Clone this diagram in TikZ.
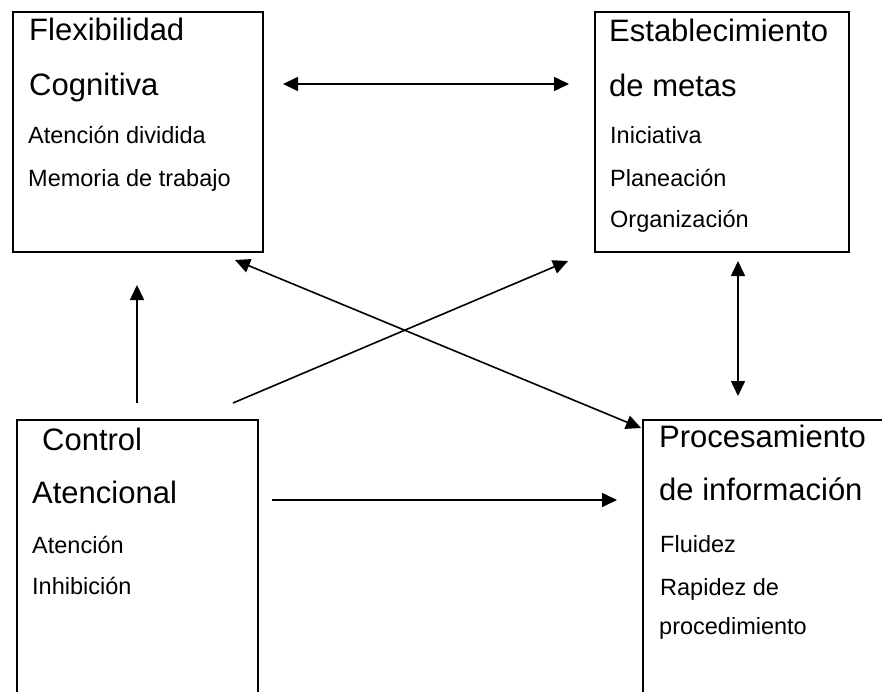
\documentclass[tikz,border=0pt]{standalone}
\usepackage{fontspec}
\setmainfont{Liberation Sans}
\usetikzlibrary{arrows.meta}
\begin{document}
\begin{tikzpicture}[x=1pt,y=-1pt,
  box/.style={draw,line width=2pt,inner sep=0pt},
  big/.style={font=\fontsize{31}{31}\selectfont,anchor=base west,inner sep=0pt},
  small/.style={font=\fontsize{23.5}{23.5}\selectfont,anchor=base west,inner sep=0pt},
  tip/.tip={Triangle[length=15pt,width=14pt]},
  conn/.style={line width=1.6pt,-tip},
  dconn/.style={line width=1.6pt,tip-tip}]
\clip (0,0) rectangle (882,692);
\fill[white] (0,0) rectangle (882,692);
% boxes
\node[box,minimum width=250pt,minimum height=240pt] (fc) at (138,132) {};
\node[box,minimum width=254pt,minimum height=240pt] (em) at (722,132) {};
\node[box,minimum width=241pt,minimum height=300pt] (ca) at (137.5,570) {};
\node[box,minimum width=277pt,minimum height=300pt] (pi) at (781.5,570) {};
% texts
\node[big] (fc1) at (29,41) {Flexibilidad};
\node[big] (fc2) at (29,96) {Cognitiva};
\node[small] (fc3) at (28,144) {Atención dividida};
\node[small] (fc4) at (28,187) {Memoria de trabajo};
\node[big] (em1) at (609,42) {Establecimiento};
\node[big] (em2) at (609,97) {de metas};
\node[small] (em3) at (610,144) {Iniciativa};
\node[small] (em4) at (610,187) {Planeación};
\node[small] (em5) at (610,228) {Organización};
\node[big] (ca1) at (42,450) {Control};
\node[big] (ca2) at (32,503) {Atencional};
\node[small] (ca3) at (32,553) {Atención};
\node[small] (ca4) at (32,594) {Inhibición};
\node[big] (pi1) at (659,447) {Procesamiento};
\node[big] (pi2) at (659,500) {de información};
\node[small] (pi3) at (660,552) {Fluidez};
\node[small] (pi4) at (660,595) {Rapidez de};
\node[small] (pi5) at (659,634) {procedimiento};
% connector ends
\coordinate (a1s) at (283,84);
\coordinate (a1e) at (569,84);
\coordinate (a2s) at (137,403);
\coordinate (a2e) at (137,285);
\coordinate (a3s) at (233,403);
\coordinate (a3e) at (568,261);
\coordinate (a4s) at (235,260);
\coordinate (a4e) at (641,428);
\coordinate (a5s) at (738,261);
\coordinate (a5e) at (738,396);
\coordinate (a6s) at (272,500);
\coordinate (a6e) at (617,500);
% connectors
\draw[dconn] (a1s) -- (a1e);
\draw[conn] (a2s) -- (a2e);
\draw[conn] (a3s) -- (a3e);
\draw[dconn] (a4s) -- (a4e);
\draw[dconn] (a5s) -- (a5e);
\draw[conn] (a6s) -- (a6e);
\end{tikzpicture}
\end{document}
